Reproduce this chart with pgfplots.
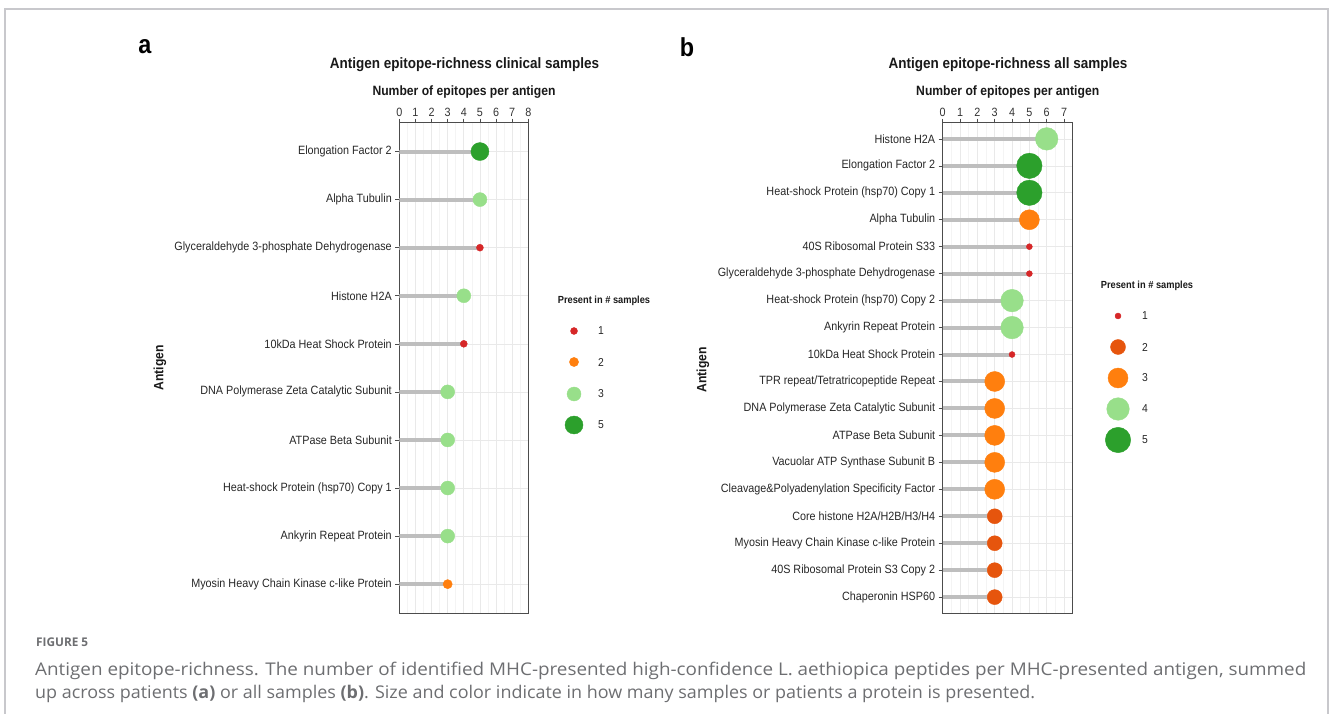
\documentclass[border=0pt]{standalone}
\usepackage{fontspec}
\setmainfont{Liberation Sans}[FakeStretch=0.9]
\newfontfamily\capfont{Open Sans}
\usepackage{pgfplots}
\pgfplotsset{compat=1.18}
\definecolor{cred}{HTML}{D62728}
\definecolor{corange}{HTML}{FF7F0E}
\definecolor{cdorange}{HTML}{E6550D}
\definecolor{clgreen}{HTML}{98DF8A}
\definecolor{cgreen}{HTML}{2CA02C}
\definecolor{segcol}{HTML}{BEBEBE}
\definecolor{capgray}{HTML}{6D6E71}
\definecolor{framegray}{HTML}{C8C8CC}
\newlength\capw
\newlength\capwb
\newlength\figw
\pgfplotsset{
  lolli/.style={
    scale only axis,
    xmin=0, xtick={0,...,8}, minor x tick num=1,
    xtick pos=right, xticklabel pos=right, ytick pos=left,
    tick align=outside,
    major tick length=4pt, minor tick length=0pt,
    every tick/.style={black!70, line width=0.6pt},
    axis line style={black!70, line width=0.7pt},
    xmajorgrids, xminorgrids, ymajorgrids,
    major grid style={color=gray!17, line width=0.6pt},
    minor grid style={color=gray!9, line width=0.5pt},
    /pgf/number format/assume math mode=true,
    xticklabel style={font=\fontsize{12}{12}\selectfont, text=black!80, inner sep=2pt},
    yticklabel style={font=\fontsize{12}{12}\selectfont, text=black!85},
  },
  seg/.style={xcomb, draw=segcol, line width=4pt},
}
\newcommand\capone{Antigen epitope-richness. The number of identified MHC-presented high-confidence L. aethiopica peptides per MHC-presented antigen, summed}
\newcommand\captwo{up across patients \textbf{(a)} or all samples \textbf{(b)}. Size and color indicate in how many samples or patients a protein is presented.}
\begin{document}
\settowidth\capw{\capfont\fontsize{17.5}{17.5}\selectfont\capone}%
\settowidth\capwb{\capfont\fontsize{17.5}{17.5}\selectfont\captwo}%
\settowidth\figw{\capfont\bfseries\fontsize{12}{12}\selectfont FIGURE 5}%
\pgfmathsetmacro\capsx{1271/\capw}%
\pgfmathsetmacro\capsxb{1000/\capwb}%
\pgfmathsetmacro\figsx{52/\figw}%
\begin{tikzpicture}
\path[use as bounding box] (0pt,0pt) rectangle (1330pt,-714pt);
\draw[framegray, line width=1.5pt] (5pt,-800pt) -- (5pt,-9pt) -- (1328pt,-9pt) -- (1328pt,-800pt);

% ---------- panel a ----------
\begin{axis}[lolli,
  at={(399.3pt,-122.7pt)}, anchor=north west,
  width=129pt, height=490.3pt,
  xmax=8, ymin=0.4, ymax=10.6,
  ytick={1,...,10},
  yticklabels={Myosin Heavy Chain Kinase c-like Protein, Ankyrin Repeat Protein, Heat-shock Protein (hsp70) Copy 1, ATPase Beta Subunit, DNA Polymerase Zeta Catalytic Subunit, 10kDa Heat Shock Protein, Histone H2A, Glyceraldehyde 3-phosphate Dehydrogenase, Alpha Tubulin, Elongation Factor 2},
]
\addplot[seg] table {
x y
5 10
5 9
5 8
4 7
4 6
3 5
3 4
3 3
3 2
3 1
};
\addplot[only marks, mark=*, mark size=9pt, color=cgreen] table {
x y
5 10
};
\addplot[only marks, mark=*, mark size=7pt, color=clgreen] table {
x y
5 9
4 7
3 5
3 4
3 3
3 2
};
\addplot[only marks, mark=*, mark size=3.5pt, color=cred] table {
x y
5 8
4 6
};
\addplot[only marks, mark=*, mark size=4.6pt, color=corange] table {
x y
3 1
};
\end{axis}

% ---------- panel b ----------
\begin{axis}[lolli,
  at={(942.7pt,-122.7pt)}, anchor=north west,
  width=130pt, height=490.6pt,
  xmax=7.5, ymin=0.4, ymax=18.6,
  xtick={0,...,7},
  ytick={1,...,18},
  yticklabels={Chaperonin HSP60, 40S Ribosomal Protein S3 Copy 2, Myosin Heavy Chain Kinase c-like Protein, Core histone H2A/H2B/H3/H4, Cleavage\&Polyadenylation Specificity Factor, Vacuolar ATP Synthase Subunit B, ATPase Beta Subunit, DNA Polymerase Zeta Catalytic Subunit, TPR repeat/Tetratricopeptide Repeat, 10kDa Heat Shock Protein, Ankyrin Repeat Protein, Heat-shock Protein (hsp70) Copy 2, Glyceraldehyde 3-phosphate Dehydrogenase, 40S Ribosomal Protein S33, Alpha Tubulin, Heat-shock Protein (hsp70) Copy 1, Elongation Factor 2, Histone H2A},
]
\addplot[seg] table {
x y
6 18
5 17
5 16
5 15
5 14
5 13
4 12
4 11
4 10
3 9
3 8
3 7
3 6
3 5
3 4
3 3
3 2
3 1
};
\addplot[only marks, mark=*, mark size=11.3pt, color=clgreen] table {
x y
6 18
4 12
4 11
};
\addplot[only marks, mark=*, mark size=12.7pt, color=cgreen] table {
x y
5 17
5 16
};
\addplot[only marks, mark=*, mark size=10pt, color=corange] table {
x y
5 15
3 9
3 8
3 7
3 6
3 5
};
\addplot[only marks, mark=*, mark size=3pt, color=cred] table {
x y
5 14
5 13
4 10
};
\addplot[only marks, mark=*, mark size=7.5pt, color=cdorange] table {
x y
3 4
3 3
3 2
3 1
};
\end{axis}

% ---------- legends (pixel-unit overlay axis) ----------
\begin{axis}[at={(0pt,-714pt)}, anchor=south west, width=1330pt, height=714pt,
  scale only axis, xmin=0, xmax=1330, ymin=-714, ymax=0,
  axis lines=none, ticks=none, clip=false]
\addplot[only marks, mark=*, mark size=3.5pt, color=cred] coordinates {(574,-331)};
\addplot[only marks, mark=*, mark size=4.6pt, color=corange] coordinates {(574,-362)};
\addplot[only marks, mark=*, mark size=7pt, color=clgreen] coordinates {(574,-394)};
\addplot[only marks, mark=*, mark size=9pt, color=cgreen] coordinates {(574,-425)};
\addplot[only marks, mark=*, mark size=3pt, color=cred] coordinates {(1118,-316)};
\addplot[only marks, mark=*, mark size=7.5pt, color=cdorange] coordinates {(1118,-347)};
\addplot[only marks, mark=*, mark size=10pt, color=corange] coordinates {(1118,-378)};
\addplot[only marks, mark=*, mark size=11.3pt, color=clgreen] coordinates {(1118,-409)};
\addplot[only marks, mark=*, mark size=12.7pt, color=cgreen] coordinates {(1118,-440)};
\end{axis}

% ---------- texts ----------
\node[font=\bfseries\fontsize{26}{26}\selectfont] at (145pt,-47pt) {a};
\node[font=\bfseries\fontsize{26}{26}\selectfont] at (687pt,-47pt) {b};
\node[font=\bfseries\fontsize{15}{15}\selectfont, text=black!90] at (464.5pt,-65pt) {Antigen epitope-richness clinical samples};
\node[font=\bfseries\fontsize{15}{15}\selectfont, text=black!90] at (1008pt,-65pt) {Antigen epitope-richness all samples};
\node[font=\bfseries\fontsize{13.5}{13.5}\selectfont, text=black!90] at (464pt,-92pt) {Number of epitopes per antigen};
\node[font=\bfseries\fontsize{13.5}{13.5}\selectfont, text=black!90] at (1007.7pt,-92pt) {Number of epitopes per antigen};
\node[font=\bfseries\fontsize{13.5}{13.5}\selectfont, text=black!90, rotate=90] at (160pt,-368pt) {Antigen};
\node[font=\bfseries\fontsize{13.5}{13.5}\selectfont, text=black!90, rotate=90] at (703pt,-370pt) {Antigen};
\node[font=\bfseries\fontsize{10.3}{10.3}\selectfont, text=black!90] at (604pt,-301pt) {Present in \# samples};
\node[font=\bfseries\fontsize{10.3}{10.3}\selectfont, text=black!90] at (1147pt,-286pt) {Present in \# samples};
\foreach \yy/\tt in {331/1,362/2,394/3,425/5}
  \node[font=\fontsize{11.5}{11.5}\selectfont, text=black!85] at (601pt,-\yy pt) {\tt};
\foreach \yy/\tt in {316/1,347/2,378/3,409/4,440/5}
  \node[font=\fontsize{11.5}{11.5}\selectfont, text=black!85] at (1145pt,-\yy pt) {\tt};

% ---------- caption ----------
\node[anchor=west, text=capgray, font=\capfont\bfseries\fontsize{12}{12}\selectfont, inner sep=0pt] at (36pt,-642pt) {\scalebox{\figsx}[1]{FIGURE 5}};
\node[anchor=west, text=capgray, font=\capfont\fontsize{17.5}{17.5}\selectfont, inner sep=0pt] at (35pt,-671pt) {\scalebox{\capsx}[1]{\capone}};
\node[anchor=west, text=capgray, font=\capfont\fontsize{17.5}{17.5}\selectfont, inner sep=0pt] at (35pt,-694pt) {\scalebox{\capsxb}[1]{\captwo}};
\end{tikzpicture}
\end{document}
